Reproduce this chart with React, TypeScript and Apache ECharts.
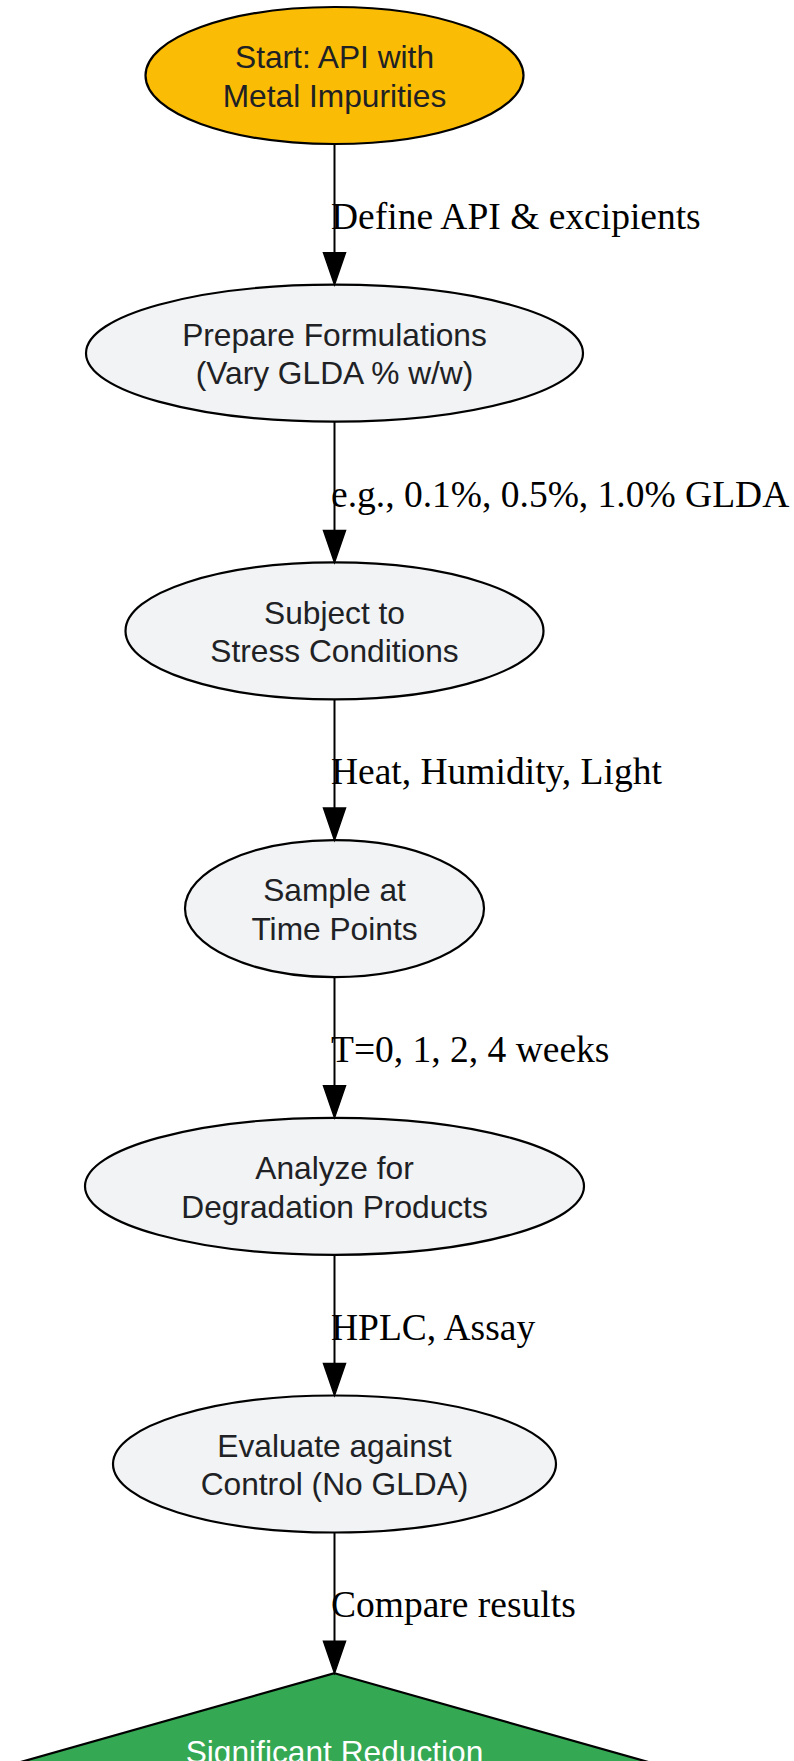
import React, { useEffect, useRef } from "react";
import * as echarts from "echarts";

// ---- content ----
const nodeLabels: string[] = [
  "Start: API with\nMetal Impurities",
  "Prepare Formulations\n(Vary GLDA % w/w)",
  "Subject to\nStress Conditions",
  "Sample at\nTime Points",
  "Analyze for\nDegradation Products",
  "Evaluate against\nControl (No GLDA)",
];
const edgeLabels: string[] = [
  "Define API & excipients",
  "e.g., 0.1%, 0.5%, 1.0% GLDA",
  "Heat, Humidity, Light",
  "T=0, 1, 2, 4 weeks",
  "HPLC, Assay",
  "Compare results",
];
const decisionLabel = "Significant Reduction";

// ---- layout (px) ----
const W = 794;
const H = 1761;
const CX = 334.5;
const TOP = 7;
const RANK = 277.7;
const RY = 68.5;
const nodeRx: number[] = [189, 248.5, 209, 149.5, 249.5, 221.5];
const ARROW_LEN = 32;
const ARROW_HALF = 11;
const DIAMOND_HALF_W = 400;
const DIAMOND_SLOPE = 0.283;

const NODE_FONT = '"Liberation Sans", Arial, Helvetica, sans-serif';
const EDGE_FONT = '"Liberation Serif", "Times New Roman", Times, serif';

function buildGraphics() {
  const els: any[] = [];
  const rankTop = (i: number) => TOP + i * RANK;
  const rankCy = (i: number) => rankTop(i) + RY;

  // edges
  for (let i = 0; i < edgeLabels.length; i++) {
    const y0 = rankCy(i) + RY;
    const tip = rankTop(i + 1);
    els.push({
      type: "line",
      shape: { x1: CX, y1: y0, x2: CX, y2: tip - ARROW_LEN + 2 },
      style: { stroke: "#000", lineWidth: 2 },
      z: 1,
    });
    els.push({
      type: "polygon",
      shape: {
        points: [
          [CX - ARROW_HALF, tip - ARROW_LEN],
          [CX + ARROW_HALF, tip - ARROW_LEN],
          [CX, tip],
        ],
      },
      style: { fill: "#000", stroke: "#000", lineWidth: 1.5 },
      z: 3,
    });
    els.push({
      type: "text",
      x: CX - 3.5,
      y: (rankCy(i) + rankCy(i + 1)) / 2 + 2,
      style: {
        text: edgeLabels[i],
        fontFamily: EDGE_FONT,
        fontSize: 37.5,
        fill: "#000",
        align: "left",
        verticalAlign: "middle",
      },
      z: 4,
    });
  }

  // nodes
  nodeLabels.forEach((label, i) => {
    const cy = rankCy(i);
    els.push({
      type: "ellipse",
      shape: { cx: CX, cy, rx: nodeRx[i], ry: RY },
      style: {
        fill: i === 0 ? "#FBBC05" : "#F1F3F4",
        stroke: "#000",
        lineWidth: 2.2,
      },
      z: 2,
    });
    els.push({
      type: "text",
      x: CX,
      y: cy + 1,
      style: {
        text: label,
        fontFamily: NODE_FONT,
        fontSize: 31.7,
        lineHeight: 38.6,
        fill: "#202124",
        align: "center",
        verticalAlign: "middle",
      },
      z: 4,
    });
  });

  // decision diamond (cut by the page bottom)
  const dTop = rankTop(nodeLabels.length);
  const dHalfH = DIAMOND_HALF_W * DIAMOND_SLOPE;
  const dCy = dTop + dHalfH;
  els.push({
    type: "polygon",
    shape: {
      points: [
        [CX, dTop],
        [CX + DIAMOND_HALF_W, dCy],
        [CX, dCy + dHalfH],
        [CX - DIAMOND_HALF_W, dCy],
      ],
    },
    style: { fill: "#34A853", stroke: "#000", lineWidth: 2.2 },
    z: 2,
  });
  els.push({
    type: "text",
    x: CX,
    y: dTop + 79,
    style: {
      text: decisionLabel,
      fontFamily: NODE_FONT,
      fontSize: 31.7,
      fill: "#FFFFFF",
      align: "center",
      verticalAlign: "middle",
    },
    z: 4,
  });

  return els;
}

export default function App() {
  const ref = useRef<HTMLDivElement>(null);
  useEffect(() => {
    document.body.style.margin = "0";
    if (!ref.current) return;
    const chart = echarts.init(ref.current, null, { renderer: "svg" });
    chart.setOption({
      animation: false,
      backgroundColor: "#ffffff",
      graphic: { elements: buildGraphics() },
    });
    return () => chart.dispose();
  }, []);
  return (
    <div
      ref={ref}
      style={{ position: "absolute", left: 0, top: 0, width: W, height: H }}
    />
  );
}
